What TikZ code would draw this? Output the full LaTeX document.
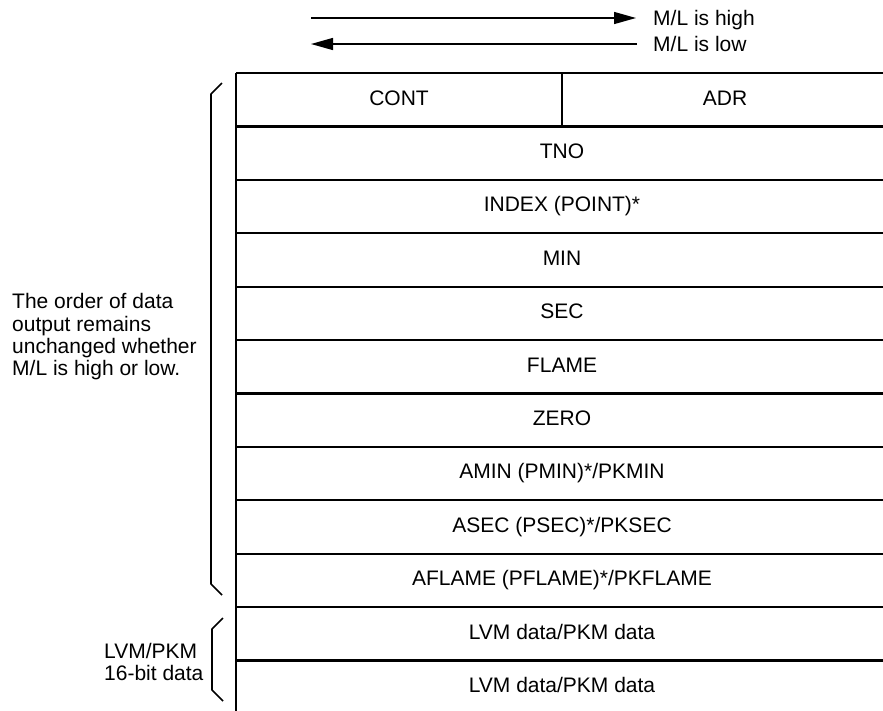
\documentclass[tikz,border=0pt]{standalone}
\usepackage{fontspec}
\setmainfont{Liberation Sans}
\usetikzlibrary{matrix,arrows.meta}

\begin{document}
\begin{tikzpicture}[x=1pt,y=-1pt,
  txt/.style={font=\fontsize{21}{22.3}\selectfont, inner sep=0pt},
  cell/.style={minimum width=326pt, minimum height=53.4pt, outer sep=0pt,
    text height=15pt, text depth=4.4pt},
  rule/.style={line width=2.2pt},
  brace/.style={line width=1.7pt, line join=round},
  arr/.style={-{Triangle[length=22pt,width=12pt]}, line width=1.4pt}]
  \useasboundingbox (0,0) rectangle (883,710);
  \matrix (M)[matrix of nodes, nodes in empty cells,
  nodes={txt, cell},
  anchor=north west, inner sep=0pt, outer sep=0pt,
  column sep={163pt,between origins},
  row sep={53.4pt,between origins}
  ] at (236,73) {CONT &                          & ADR \\
    & TNO                      & \\
    & INDEX (POINT)*           & \\
    & MIN                      & \\
    & SEC                      & \\
    & FLAME                    & \\
    & ZERO                     & \\
    & AMIN (PMIN)*/PKMIN       & \\
    & ASEC (PSEC)*/PKSEC       & \\
    & AFLAME (PFLAME)*/PKFLAME & \\
    & LVM data/PKM data        & \\
    & LVM data/PKM data        & \\
  };
  \draw[rule](M-1-1.north west)--(M-1-3.north east);
  \draw[rule](M-1-1.south west)--(M-1-3.south east);
  \draw[rule](M-2-1.south west)--(M-2-3.south east);
  \draw[rule](M-3-1.south west)--(M-3-3.south east);
  \draw[rule](M-4-1.south west)--(M-4-3.south east);
  \draw[rule](M-5-1.south west)--(M-5-3.south east);
  \draw[rule](M-6-1.south west)--(M-6-3.south east);
  \draw[rule](M-7-1.south west)--(M-7-3.south east);
  \draw[rule](M-8-1.south west)--(M-8-3.south east);
  \draw[rule](M-9-1.south west)--(M-9-3.south east);
  \draw[rule](M-10-1.south west)--(M-10-3.south east);
  \draw[rule](M-11-1.south west)--(M-11-3.south east);
  \draw[rule](M-1-1.north west)--(M-12-1.south west);
  \draw[rule](M-1-2.north)--(M-1-2.south);

  % M/L direction
  \coordinate (hiL) at (311,18);
  \coordinate (loL) at (311,44);
  \node[txt, anchor=west, inner xsep=17pt, text height=15pt, text depth=0pt]
    (hi) at (636,18) {M/L is high};
  \node[txt, anchor=west, inner xsep=16pt, text height=15pt, text depth=0pt]
    (lo) at (637,44) {M/L is low};
  \draw[arr](hiL)--(hi);
  \draw[arr](lo)--(loL);

  % left notes
  \node[txt, align=left, anchor=west] (order) at (12,337)
    {The order of data\\output remains\\unchanged whether\\M/L is high or low.};
  \node[txt, align=left, anchor=west] (lvm) at (104,662)
    {LVM/PKM\\16-bit data};
  \draw[brace](222,83)--(211,94)--(211,584)--(222,595);
  \draw[brace](223,618)--(212,629)--(212,690)--(223,701);
\end{tikzpicture}
\end{document}
